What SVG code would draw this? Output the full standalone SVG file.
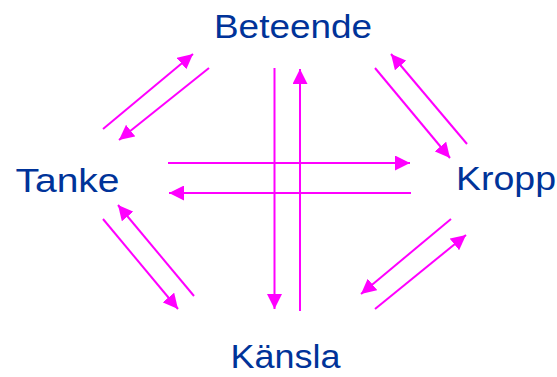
<svg xmlns="http://www.w3.org/2000/svg" width="557" height="377" viewBox="0 0 557 377">
  <style>
    .label { font-family: "Liberation Sans", Arial, sans-serif; font-size: 34px; fill: #003399; }
    .arrow { stroke: #ff00ff; stroke-width: 2; fill: none; marker-end: url(#head); }
  </style>
  <defs>
    <marker id="head" markerUnits="userSpaceOnUse" markerWidth="15" markerHeight="15" refX="15" refY="7.5" orient="auto">
      <path d="M0,0 L15,7.5 L0,15 Z" fill="#ff00ff"/>
    </marker>
  </defs>
  <rect width="557" height="377" fill="#ffffff"/>

  <g id="connectors">
    <!-- Tanke <-> Beteende -->
    <line class="arrow" x1="103" y1="129" x2="193" y2="54"/>
    <line class="arrow" x1="209" y1="68" x2="119" y2="140"/>
    <!-- Beteende <-> Kropp -->
    <line class="arrow" x1="467" y1="144" x2="391" y2="54"/>
    <line class="arrow" x1="375" y1="68" x2="450" y2="158"/>
    <!-- Tanke <-> Känsla -->
    <line class="arrow" x1="194" y1="296" x2="118" y2="205"/>
    <line class="arrow" x1="103" y1="219" x2="178" y2="309"/>
    <!-- Kropp <-> Känsla -->
    <line class="arrow" x1="451" y1="219" x2="361" y2="294"/>
    <line class="arrow" x1="375" y1="309" x2="466" y2="235"/>
    <!-- Tanke <-> Kropp -->
    <line class="arrow" x1="168" y1="163" x2="410" y2="163"/>
    <line class="arrow" x1="411" y1="193" x2="169" y2="193"/>
    <!-- Beteende <-> Känsla -->
    <line class="arrow" x1="274.5" y1="68" x2="274.5" y2="309"/>
    <line class="arrow" x1="300" y1="311" x2="300" y2="69"/>
  </g>

  <g id="beteende">
    <text class="label" x="214" y="37.5" textLength="158" lengthAdjust="spacingAndGlyphs">Beteende</text>
  </g>
  <g id="tanke">
    <text class="label" x="15.5" y="192.3" textLength="104" lengthAdjust="spacingAndGlyphs">Tanke</text>
  </g>
  <g id="kropp">
    <text class="label" x="456" y="190.3" textLength="100" lengthAdjust="spacingAndGlyphs">Kropp</text>
  </g>
  <g id="kansla">
    <text class="label" x="230.5" y="368.3" textLength="110" lengthAdjust="spacingAndGlyphs">Känsla</text>
  </g>
</svg>
